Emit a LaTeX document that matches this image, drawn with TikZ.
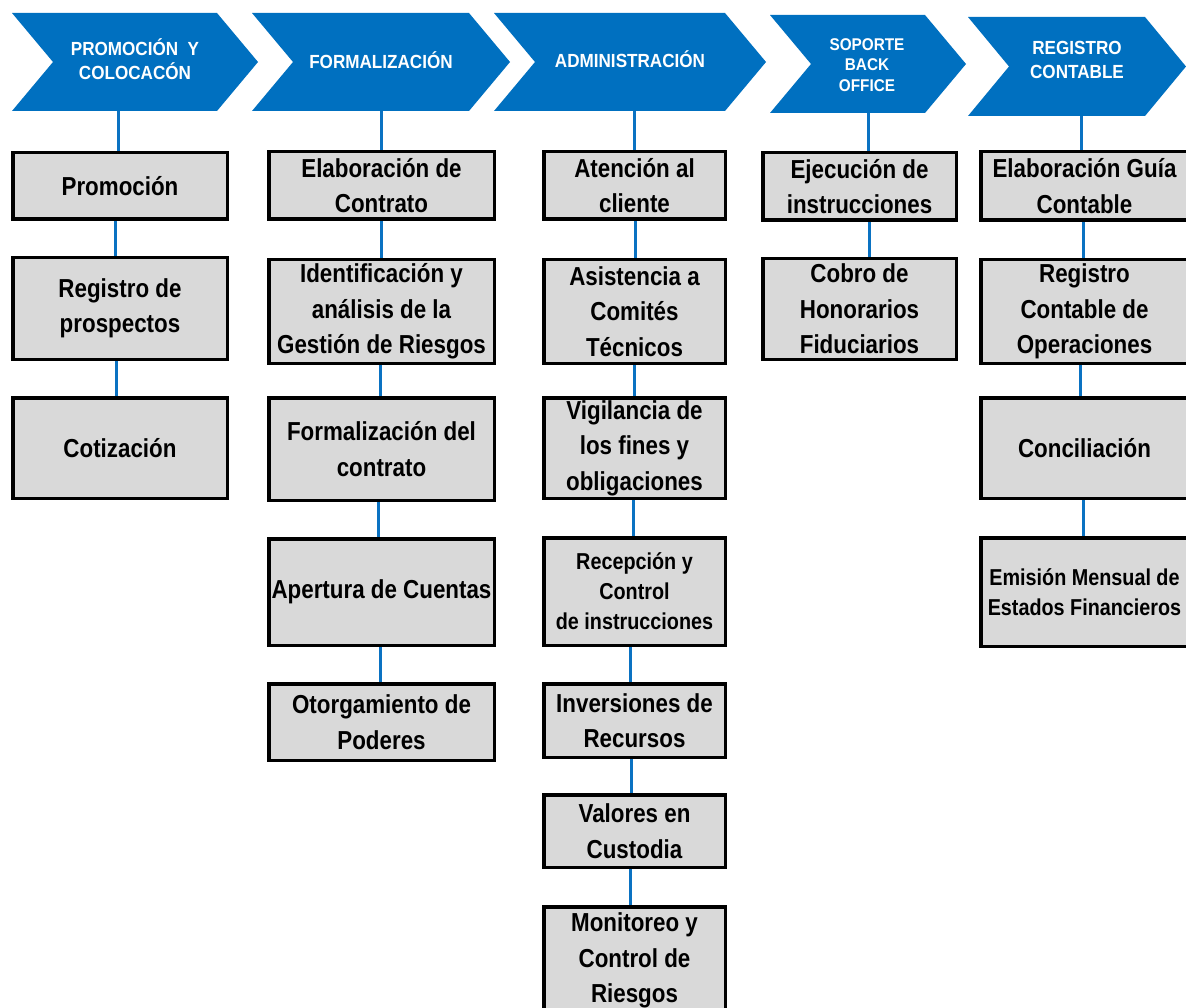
\documentclass[tikz,border=0pt]{standalone}
\usepackage{fontspec}
\setmainfont{Liberation Sans}
\newfontfamily\bodyfam{Liberation Sans}[FakeStretch=0.86]
\newfontfamily\hdrfam{Liberation Sans}[FakeStretch=0.9]
\usetikzlibrary{backgrounds}
\definecolor{hdrblue}{HTML}{0070C0}
\definecolor{linkblue}{HTML}{0A72C2}
\definecolor{boxgray}{HTML}{D9D9D9}
\newcommand{\chevron}[4]{%
  \fill[hdrblue] (#1,#3) -- (#2,#3) -- ({#2+41},{(#3+#4)/2}) -- (#2,#4) -- (#1,#4) -- ({#1+41},{(#3+#4)/2}) -- cycle;}
\tikzset{
  procbox/.style={draw=black, line width=3.5pt, fill=boxgray, align=center, inner sep=0pt, text=black,
    font=\bodyfam\bfseries\fontsize{26pt}{35.5pt}\selectfont},
  smallbox/.style={procbox, font=\bodyfam\bfseries\fontsize{23pt}{30pt}\selectfont},
  link/.style={draw=linkblue, line width=3pt},
  hdrtext/.style={text=white, align=center, inner sep=0pt,
    font=\hdrfam\bfseries\fontsize{19pt}{24pt}\selectfont},
  hdrsmall/.style={hdrtext, font=\hdrfam\bfseries\fontsize{17pt}{20.5pt}\selectfont},
  c1/.style={procbox, minimum width=214.5pt},
  c2/.style={procbox, minimum width=225.5pt},
  c3/.style={procbox, minimum width=181.5pt},
  c4/.style={procbox, minimum width=193.5pt},
  c5/.style={procbox, minimum width=207.5pt},
}
\begin{document}
\begin{tikzpicture}[x=1pt,y=-1pt]
\useasboundingbox (0,0) rectangle (1186,1008);
\begin{pgfonlayer}{background}
\fill[white] (0,0) rectangle (1186,1008);
\end{pgfonlayer}

% header chevrons
\chevron{12}{217}{13}{111}
\chevron{252}{469}{13}{111}
\chevron{494}{725}{13}{111}
\chevron{770}{925}{15}{113}
\chevron{968}{1145}{17}{116}

\node[hdrtext] (t1) at (135,59) {PROMOCIÓN\ \ Y\\COLOCACÓN};
\node[hdrtext] (t2) at (381,60) {FORMALIZACIÓN};
\node[hdrtext] (t3) at (630,59) {ADMINISTRACIÓN};
\node[hdrsmall] (t4) at (867,65) {SOPORTE\\BACK\\OFFICE};
\node[hdrtext] (t5) at (1077,60) {REGISTRO\\CONTABLE};

\coordinate (hc1) at (118,111);
\coordinate (hc2) at (381.5,111);
\coordinate (hc3) at (634,111);
\coordinate (hc4) at (868,113);
\coordinate (hc5) at (1081,116);

% column 1
\node[c1, minimum height=66.5pt] (b11) at (120,186) {Promoción};
\node[c1, minimum height=101.5pt] (b12) at (120,308.5) {Registro de\\prospectos};
\node[c1, minimum height=100.5pt] (b13) at (120,448) {Cotización};

% column 2
\node[c2, minimum height=67.5pt] (b21) at (381.5,185.5) {Elaboración de\\Contrato};
\node[c2, minimum height=103.5pt] (b22) at (381.5,311.5) {Identificación y\\análisis de la\\Gestión de Riesgos};
\node[c2, minimum height=102.5pt] (b23) at (381.5,449) {Formalización del\\contrato};
\node[c2, minimum height=106.5pt] (b24) at (381.5,592) {Apertura de Cuentas};
\node[c2, minimum height=76.5pt] (b25) at (381.5,722) {Otorgamiento de\\Poderes};

% column 3
\node[c3, minimum height=67.5pt] (b31) at (634.5,185.5) {Atención al\\cliente};
\node[c3, minimum height=103.5pt] (b32) at (634.5,311.5) {Asistencia a\\Comités\\Técnicos};
\node[c3, minimum height=100.5pt] (b33) at (634.5,448) {Vigilancia de\\los fines y\\obligaciones};
\node[c3, smallbox, minimum height=107.5pt] (b34) at (634.5,591.5) {Recepción y\\Control\\de instrucciones};
\node[c3, minimum height=73.5pt] (b35) at (634.5,720.5) {Inversiones de\\Recursos};
\node[c3, minimum height=72.5pt] (b36) at (634.5,831) {Valores en\\Custodia};
\node[c3, minimum height=107.5pt] (b37) at (634.5,960.5) {Monitoreo y\\Control de\\Riesgos};

% column 4
\node[c4, minimum height=67.5pt] (b41) at (859.5,186.5) {Ejecución de\\instrucciones};
\node[c4, minimum height=100.5pt] (b42) at (859.5,309) {Cobro de\\Honorarios\\Fiduciarios};

% column 5
\node[c5, minimum height=68.5pt] (b51) at (1084.5,186) {Elaboración Guía\\Contable};
\node[c5, minimum height=103.5pt] (b52) at (1084.5,311.5) {Registro\\Contable de\\Operaciones};
\node[c5, minimum height=100.5pt] (b53) at (1084.5,448) {Conciliación};
\node[c5, smallbox, minimum height=108.5pt] (b54) at (1084.5,592) {Emisión Mensual de\\Estados Financieros};

\begin{pgfonlayer}{background}
% column 1 links
\draw[link] (hc1) -- (hc1 |- b11.north);
\draw[link] ([xshift=-5pt]b11.south) -- ([xshift=-5pt]b12.north);
\draw[link] ([xshift=-4pt]b12.south) -- ([xshift=-4pt]b13.north);
% column 2 links
\draw[link] (hc2) -- (hc2 |- b21.north);
\draw[link] ([xshift=-0.5pt]b21.south) -- ([xshift=-0.5pt]b22.north);
\draw[link] ([xshift=-1.5pt]b22.south) -- ([xshift=-1.5pt]b23.north);
\draw[link] ([xshift=-3.5pt]b23.south) -- ([xshift=-3.5pt]b24.north);
\draw[link] ([xshift=-1.5pt]b24.south) -- ([xshift=-1.5pt]b25.north);
% column 3 links
\draw[link] (hc3) -- (hc3 |- b31.north);
\draw[link] ([xshift=1pt]b31.south) -- ([xshift=1pt]b32.north);
\draw[link] ([xshift=0pt]b32.south) -- ([xshift=0pt]b33.north);
\draw[link] ([xshift=-1.5pt]b33.south) -- ([xshift=-1.5pt]b34.north);
\draw[link] ([xshift=-4.5pt]b34.south) -- ([xshift=-4.5pt]b35.north);
\draw[link] ([xshift=-3.5pt]b35.south) -- ([xshift=-3.5pt]b36.north);
\draw[link] ([xshift=-4.5pt]b36.south) -- ([xshift=-4.5pt]b37.north);
% column 4 links
\draw[link] (hc4) -- (hc4 |- b41.north);
\draw[link] ([xshift=9.5pt]b41.south) -- ([xshift=9.5pt]b42.north);
% column 5 links
\draw[link] (hc5) -- (hc5 |- b51.north);
\draw[link] ([xshift=-1.5pt]b51.south) -- ([xshift=-1.5pt]b52.north);
\draw[link] ([xshift=-4.5pt]b52.south) -- ([xshift=-4.5pt]b53.north);
\draw[link] ([xshift=-1.5pt]b53.south) -- ([xshift=-1.5pt]b54.north);
\end{pgfonlayer}
\end{tikzpicture}
\end{document}
